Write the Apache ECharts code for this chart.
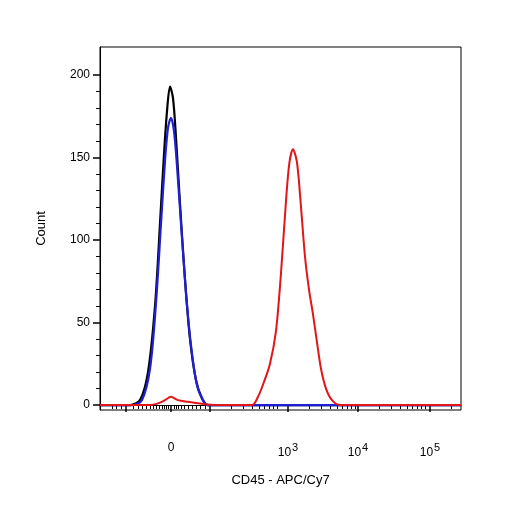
<!DOCTYPE html><html><head><meta charset="utf-8"><script src="https://cdn.jsdelivr.net/npm/echarts@6/dist/echarts.min.js"></script></head><body style="margin:0"><div id="c" style="width:506px;height:506px"></div><script>
// x values are display positions on a biexponential scale (0 at 171, 10^3 at 288, 10^4 at 358, 10^5 at 430)
const xMajor=[126,171,210,288,358,430];
const xLabels={171:'0',288:'{b|10}{s|3}',358:'{b|10}{s|4}',430:'{b|10}{s|5}'};
const xMinor=[112,116,121,133,138,142,146,150,153,156,159,162,164,166,168,174,176,178,181,184,188,192,196,200,205,231,243,252,259,264,269,273,277,309,321,330,337,342,347,351,355,379,391,400,407,412,417,421,425,451];
const yMajor=[0,50,100,150,200];
const yMinor=[10,20,30,40,60,70,80,90,110,120,130,140,160,170,180,190];
const black=[[100,0],[130,0],[140,3],[148,20],[155,60],[160,110],[164,152],[167,178],[170,193],[173,186],[176,162],[180,122],[185,76],[190,40],[196,15],[202,4],[208,0],[461,0]];
const blue=[[100,0],[133,0],[142,3],[150,22],[156,62],[161,110],[165,148],[168,168],[171,174],[174,166],[177,145],[181,110],[186,68],[191,36],[197,12],[203,3],[208,0],[461,0]];
const red=[[100,0],[150,0],[158,1],[165,3],[171,5],[178,3],[188,2],[200,1],[215,0],[252,0],[258,5],[264,14],[270,25],[276,45],[281,80],[285,115],[289,145],[293,155],[297,147],[301,120],[305,90],[309,70],[313,55],[317,38],[321,22],[326,10],[332,3],[340,0],[461,0]];
const font='Liberation Sans';
const c=echarts.init(document.getElementById('c'));
const ln=(d,col,w)=>({type:'line',data:d,smooth:0.3,symbol:'none',lineStyle:{color:col,width:w},z:3});
c.setOption({animation:false,
grid:{left:100,top:47,right:45,bottom:96,show:true,borderColor:'#000',borderWidth:1},
xAxis:[{type:'value',min:100,max:461,splitLine:{show:false},axisLine:{lineStyle:{color:'#000'}},
 axisTick:{customValues:xMajor,length:7,lineStyle:{color:'#000',width:1.5}},
 axisLabel:{customValues:[171,288,358,430],margin:32,formatter:v=>xLabels[v],color:'#000',fontFamily:font,fontSize:12,
  rich:{b:{fontFamily:font,fontSize:12,color:'#000'},s:{fontFamily:font,fontSize:11,color:'#000',verticalAlign:'bottom',padding:[0,0,10,1]}}},
 name:'CD45 - APC/Cy7',nameLocation:'middle',nameGap:64,nameTextStyle:{color:'#000',fontFamily:font,fontSize:13}},
 {type:'value',min:100,max:461,position:'bottom',splitLine:{show:false},axisLine:{show:false},axisLabel:{show:false},
 axisTick:{customValues:xMinor,length:4,lineStyle:{color:'#000'}}}],
yAxis:[{type:'value',min:-3,max:217,splitLine:{show:false},axisLine:{lineStyle:{color:'#000'}},
 axisTick:{customValues:yMajor,length:7,lineStyle:{color:'#000',width:1.5}},
 axisLabel:{customValues:yMajor,color:'#000',fontFamily:font,fontSize:12,margin:10},
 name:'Count',nameLocation:'middle',nameGap:52,nameTextStyle:{color:'#000',fontFamily:font,fontSize:13}},
 {type:'value',min:-3,max:217,position:'left',splitLine:{show:false},axisLine:{show:false},axisLabel:{show:false},
 axisTick:{customValues:yMinor,length:4,lineStyle:{color:'#000'}}}],
series:[ln(black,'#000',2.2),ln(blue,'#1f1fd6',2.2),ln(red,'#e0161b',2)]});
</script></body></html>
